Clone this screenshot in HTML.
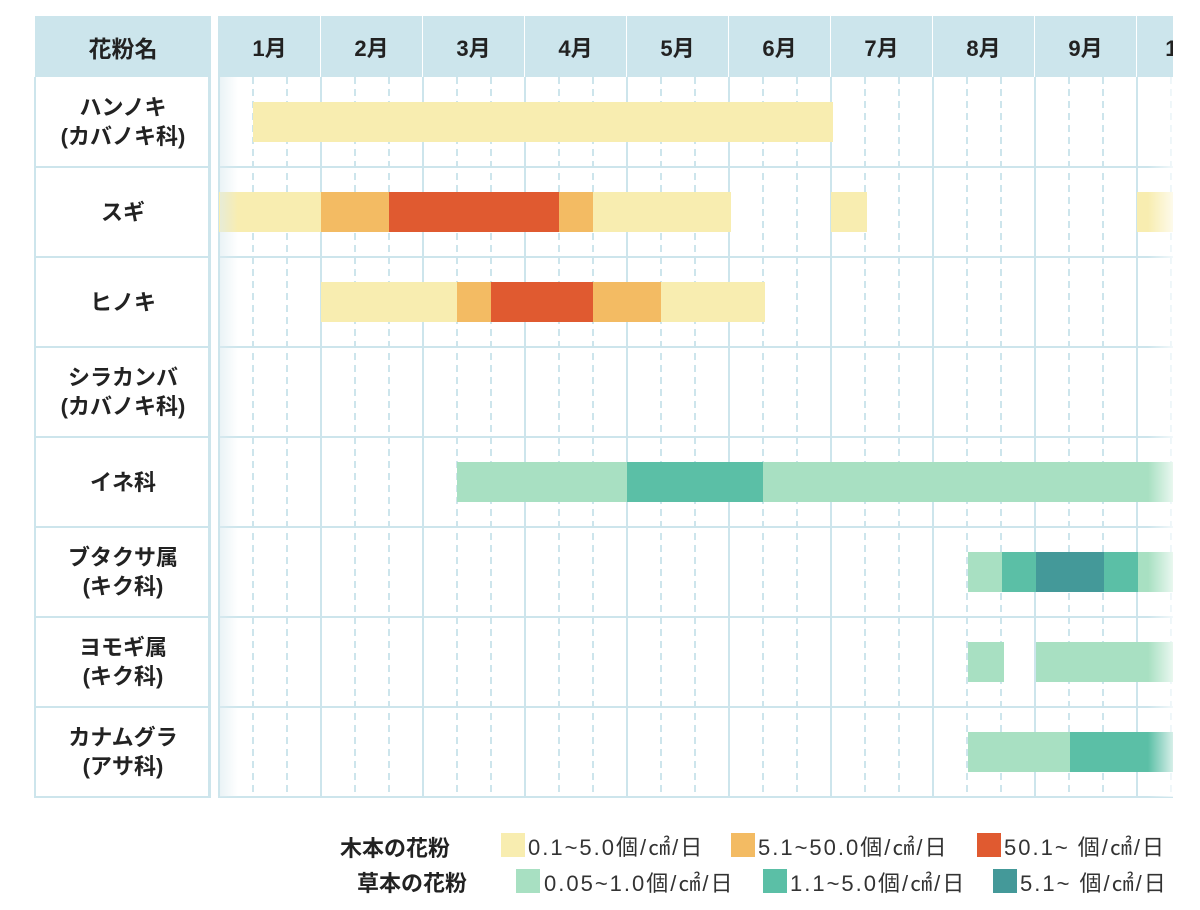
<!DOCTYPE html>
<html><head><meta charset="utf-8"><style>
body{margin:0;width:1200px;height:910px;background:#fff;position:relative;overflow:hidden;font-family:"Liberation Sans","Noto Sans CJK JP",sans-serif;color:#222}
.a{position:absolute}
.hd{background:#cce5ec;font-weight:bold;font-size:22px;display:flex;align-items:center;justify-content:center;color:#222}
.nm{position:absolute;left:35px;width:176px;height:90px;display:flex;flex-direction:column;align-items:center;justify-content:center;font-weight:bold;font-size:22px;line-height:29px;color:#222}
.b{position:absolute;height:40px}
.y1{background:#f8edb0}.y2{background:#f3bb63}.y3{background:#e05a30}
.g1{background:#a8e0c2}.g2{background:#5bbfa6}.g3{background:#449999}
.sw{position:absolute;width:24px;height:24px}
.lt{position:absolute;font-size:22px;color:#333;line-height:24px;letter-spacing:2px}
.lb{position:absolute;font-size:22px;font-weight:bold;color:#222;line-height:24px}
</style></head><body>
<div class="a hd" style="left:35px;top:16px;width:176px;height:61px;font-size:23px">花粉名</div>
<div class="a" style="left:35px;top:77px;width:176px;height:721px;border-right:3px solid #cde5ec;box-sizing:border-box"></div>
<svg class="a" style="left:0;top:0" width="1200" height="910">
<g stroke="#cde5ec" stroke-width="2">
<line x1="35" y1="77" x2="35" y2="798"/>
<line x1="35" y1="167" x2="211" y2="167"/><line x1="35" y1="257" x2="211" y2="257"/><line x1="35" y1="347" x2="211" y2="347"/><line x1="35" y1="437" x2="211" y2="437"/><line x1="35" y1="527" x2="211" y2="527"/><line x1="35" y1="617" x2="211" y2="617"/><line x1="35" y1="707" x2="211" y2="707"/><line x1="35" y1="797" x2="211" y2="797"/>
<line x1="219" y1="167" x2="1173" y2="167"/><line x1="219" y1="257" x2="1173" y2="257"/><line x1="219" y1="347" x2="1173" y2="347"/><line x1="219" y1="437" x2="1173" y2="437"/><line x1="219" y1="527" x2="1173" y2="527"/><line x1="219" y1="617" x2="1173" y2="617"/><line x1="219" y1="707" x2="1173" y2="707"/><line x1="219" y1="797" x2="1173" y2="797"/>
<line x1="219" y1="77" x2="219" y2="798"/><line x1="321" y1="77" x2="321" y2="798"/><line x1="423" y1="77" x2="423" y2="798"/><line x1="525" y1="77" x2="525" y2="798"/><line x1="627" y1="77" x2="627" y2="798"/><line x1="729" y1="77" x2="729" y2="798"/><line x1="831" y1="77" x2="831" y2="798"/><line x1="933" y1="77" x2="933" y2="798"/><line x1="1035" y1="77" x2="1035" y2="798"/><line x1="1137" y1="77" x2="1137" y2="798"/>
</g>
<g stroke="#cde5ec" stroke-width="2" stroke-dasharray="7,5">
<line x1="253" y1="77" x2="253" y2="798"/><line x1="287" y1="77" x2="287" y2="798"/>
<line x1="355" y1="77" x2="355" y2="798"/><line x1="389" y1="77" x2="389" y2="798"/>
<line x1="457" y1="77" x2="457" y2="798"/><line x1="491" y1="77" x2="491" y2="798"/>
<line x1="559" y1="77" x2="559" y2="798"/><line x1="593" y1="77" x2="593" y2="798"/>
<line x1="661" y1="77" x2="661" y2="798"/><line x1="695" y1="77" x2="695" y2="798"/>
<line x1="763" y1="77" x2="763" y2="798"/><line x1="797" y1="77" x2="797" y2="798"/>
<line x1="865" y1="77" x2="865" y2="798"/><line x1="899" y1="77" x2="899" y2="798"/>
<line x1="967" y1="77" x2="967" y2="798"/><line x1="1001" y1="77" x2="1001" y2="798"/>
<line x1="1069" y1="77" x2="1069" y2="798"/><line x1="1103" y1="77" x2="1103" y2="798"/>
<line x1="1171" y1="77" x2="1171" y2="798"/>
</g>
</svg>
<div class="a" style="left:218px;top:16px;width:955px;height:61px;overflow:hidden;background:#cce5ec">
<div class="a hd" style="left:1px;top:0;width:103px;height:61px;border-right:2px solid #fff;box-sizing:border-box">1月</div>
<div class="a hd" style="left:103px;top:0;width:103px;height:61px;border-right:2px solid #fff;box-sizing:border-box">2月</div>
<div class="a hd" style="left:205px;top:0;width:103px;height:61px;border-right:2px solid #fff;box-sizing:border-box">3月</div>
<div class="a hd" style="left:307px;top:0;width:103px;height:61px;border-right:2px solid #fff;box-sizing:border-box">4月</div>
<div class="a hd" style="left:409px;top:0;width:103px;height:61px;border-right:2px solid #fff;box-sizing:border-box">5月</div>
<div class="a hd" style="left:511px;top:0;width:103px;height:61px;border-right:2px solid #fff;box-sizing:border-box">6月</div>
<div class="a hd" style="left:613px;top:0;width:103px;height:61px;border-right:2px solid #fff;box-sizing:border-box">7月</div>
<div class="a hd" style="left:715px;top:0;width:103px;height:61px;border-right:2px solid #fff;box-sizing:border-box">8月</div>
<div class="a hd" style="left:817px;top:0;width:103px;height:61px;border-right:2px solid #fff;box-sizing:border-box">9月</div>
<div class="a hd" style="left:919px;top:0;width:103px;height:61px">10月</div>
</div>
<div class="nm" style="top:77px"><div>ハンノキ</div><div>(カバノキ科)</div></div>
<div class="nm" style="top:167px"><div>スギ</div></div>
<div class="nm" style="top:257px"><div>ヒノキ</div></div>
<div class="nm" style="top:347px"><div>シラカンバ</div><div>(カバノキ科)</div></div>
<div class="nm" style="top:437px"><div>イネ科</div></div>
<div class="nm" style="top:527px"><div>ブタクサ属</div><div>(キク科)</div></div>
<div class="nm" style="top:617px"><div>ヨモギ属</div><div>(キク科)</div></div>
<div class="nm" style="top:707px"><div>カナムグラ</div><div>(アサ科)</div></div>
<div class="b y1" style="left:253px;width:580px;top:102px"></div>
<div class="b y1" style="left:219px;width:102px;top:192px"></div>
<div class="b y2" style="left:321px;width:68px;top:192px"></div>
<div class="b y3" style="left:389px;width:170px;top:192px"></div>
<div class="b y2" style="left:559px;width:34px;top:192px"></div>
<div class="b y1" style="left:593px;width:138px;top:192px"></div>
<div class="b y1" style="left:831px;width:36px;top:192px"></div>
<div class="b y1" style="left:1137px;width:36px;top:192px"></div>
<div class="b y1" style="left:321px;width:136px;top:282px"></div>
<div class="b y2" style="left:457px;width:34px;top:282px"></div>
<div class="b y3" style="left:491px;width:102px;top:282px"></div>
<div class="b y2" style="left:593px;width:68px;top:282px"></div>
<div class="b y1" style="left:661px;width:104px;top:282px"></div>
<div class="b g1" style="left:457px;width:170px;top:462px"></div>
<div class="b g2" style="left:627px;width:136px;top:462px"></div>
<div class="b g1" style="left:763px;width:410px;top:462px"></div>
<div class="b g1" style="left:968px;width:34px;top:552px"></div>
<div class="b g2" style="left:1002px;width:34px;top:552px"></div>
<div class="b g3" style="left:1036px;width:68px;top:552px"></div>
<div class="b g2" style="left:1104px;width:34px;top:552px"></div>
<div class="b g1" style="left:1138px;width:35px;top:552px"></div>
<div class="b g1" style="left:968px;width:36px;top:642px"></div>
<div class="b g1" style="left:1036px;width:137px;top:642px"></div>
<div class="b g1" style="left:968px;width:102px;top:732px"></div>
<div class="b g2" style="left:1070px;width:103px;top:732px"></div>
<div class="a" style="left:220px;top:77px;width:18px;height:720px;background:linear-gradient(to right,rgba(220,235,240,.6),rgba(255,255,255,0))"></div>
<div class="a" style="left:1148px;top:77px;width:25px;height:720px;background:linear-gradient(to right,rgba(255,255,255,0),rgba(255,255,255,.75))"></div>
<div class="lb" style="left:340px;top:837px">木本の花粉</div>
<div class="sw y1" style="left:501px;top:833px"></div><div class="lt" style="left:528px;top:836px">0.1~5.0個/㎠/日</div>
<div class="sw y2" style="left:731px;top:833px"></div><div class="lt" style="left:758px;top:836px">5.1~50.0個/㎠/日</div>
<div class="sw y3" style="left:977px;top:833px"></div><div class="lt" style="left:1004px;top:836px">50.1~ 個/㎠/日</div>
<div class="lb" style="left:357px;top:872px">草本の花粉</div>
<div class="sw g1" style="left:516px;top:869px"></div><div class="lt" style="left:544px;top:872px">0.05~1.0個/㎠/日</div>
<div class="sw g2" style="left:763px;top:869px"></div><div class="lt" style="left:790px;top:872px">1.1~5.0個/㎠/日</div>
<div class="sw g3" style="left:993px;top:869px"></div><div class="lt" style="left:1020px;top:872px">5.1~ 個/㎠/日</div>
</body></html>
